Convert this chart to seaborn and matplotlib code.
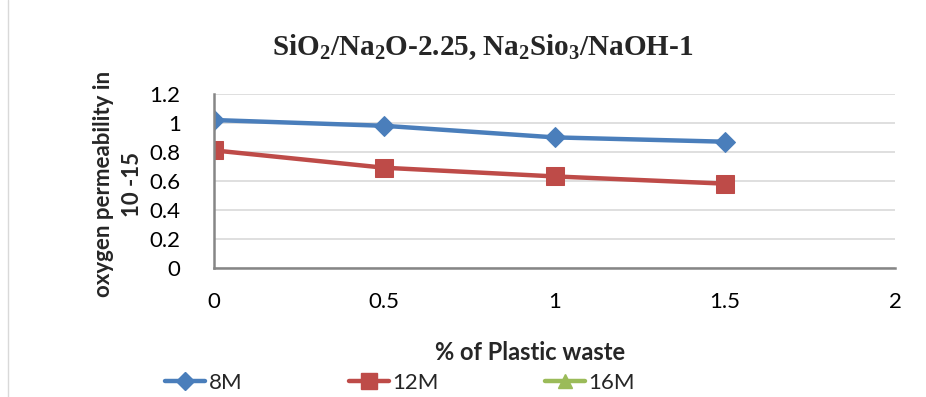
import matplotlib
matplotlib.use("Agg")
import matplotlib.pyplot as plt
import seaborn as sns
import pandas as pd
from matplotlib.lines import Line2D

plastic_waste = [0, 0.5, 1, 1.5]
perm_8M = [1.02, 0.98, 0.90, 0.87]
perm_12M = [0.81, 0.69, 0.63, 0.58]
perm_16M = []
series_names = ["8M", "12M", "16M"]
x_ticks = [0, 0.5, 1, 1.5, 2]
y_ticks = [0, 0.2, 0.4, 0.6, 0.8, 1, 1.2]
y_tick_labels = ["0", "0.2", "0.4", "0.6", "0.8", "1", "1.2"]
x_tick_labels = ["0", "0.5", "1", "1.5", "2"]

sns.set_theme(style="white")
plt.rcParams["font.family"] = ["Lato", "DejaVu Sans"]
plt.rcParams["mathtext.fontset"] = "custom"
plt.rcParams["mathtext.rm"] = "Liberation Serif:bold"
plt.rcParams["mathtext.bf"] = "Liberation Serif:bold"
plt.rcParams["mathtext.it"] = "Liberation Serif:bold"

colors = {"8M": "#4a7ebb", "12M": "#be4b48", "16M": "#9bbb59"}
markers = {"8M": "D", "12M": "s", "16M": "^"}
msizes = {"8M": 10.5, "12M": 13, "16M": 11}

df = pd.DataFrame({
    "x": plastic_waste * 2,
    "y": perm_8M + perm_12M,
    "series": ["8M"] * len(perm_8M) + ["12M"] * len(perm_12M),
})

fig = plt.figure(figsize=(9.26, 3.97), dpi=100)
ax = fig.add_axes([214 / 926, 1 - 267.5 / 397, (895 - 214) / 926, (267.5 - 94) / 397])

for name in ["8M", "12M"]:
    sub = df[df["series"] == name]
    sns.lineplot(data=sub, x="x", y="y", ax=ax, color=colors[name], lw=3.2,
                 marker=markers[name], markersize=msizes[name],
                 markeredgecolor=colors[name], legend=False)

ax.set_xlim(0, 2)
ax.set_ylim(0, 1.2)
ax.set_xticks(x_ticks)
ax.set_xticklabels(x_tick_labels)
ax.set_yticks(y_ticks)
ax.set_yticklabels(y_tick_labels)
ax.tick_params(axis="both", length=0, labelsize=16, colors="#000000")
ax.tick_params(axis="y", pad=24)
ax.tick_params(axis="x", pad=18)
ax.yaxis.grid(True, color="#d9d9d9", lw=1.2)
ax.xaxis.grid(False)
for s in ["top", "right"]:
    ax.spines[s].set_visible(False)
for s in ["left", "bottom"]:
    ax.spines[s].set_color("#868686")
    ax.spines[s].set_linewidth(1.8)
ax.set_axisbelow(True)

ax.set_xlabel("")
ax.set_ylabel("")
fig.text(118 / 926, 1 - 184 / 397, "oxygen permeability in\n10 -15", fontsize=16,
         fontweight="bold", rotation=90, ha="center", va="center",
         multialignment="center", linespacing=1.45)

fig.text(530 / 926, 1 - 352 / 397, "% of Plastic waste", fontsize=17,
         fontweight="bold", ha="center", va="center")

fig.text(483 / 926, 1 - 47 / 397,
         r"SiO$_\mathbf{2}$/Na$_\mathbf{2}$O-2.25, Na$_\mathbf{2}$Sio$_\mathbf{3}$/NaOH-1",
         fontsize=21, fontweight="bold", family="Liberation Serif",
         ha="center", va="center")

handles = [Line2D([], [], color=colors[n], lw=3.2, marker=markers[n],
                  markersize=msizes[n] * 0.9, markeredgecolor=colors[n]) for n in series_names]
fig.legend(handles, series_names, loc="center", bbox_to_anchor=(400 / 926, 1 - 383 / 397),
           ncol=3, frameon=False, fontsize=16, handlelength=1.8, handletextpad=0.15,
           columnspacing=4.8, borderpad=0)

fig.add_artist(Line2D([8 / 926, 8 / 926], [0, 1], color="#d9d9d9", lw=1,
                      transform=fig.transFigure))

fig.savefig("out.png", dpi=100)
